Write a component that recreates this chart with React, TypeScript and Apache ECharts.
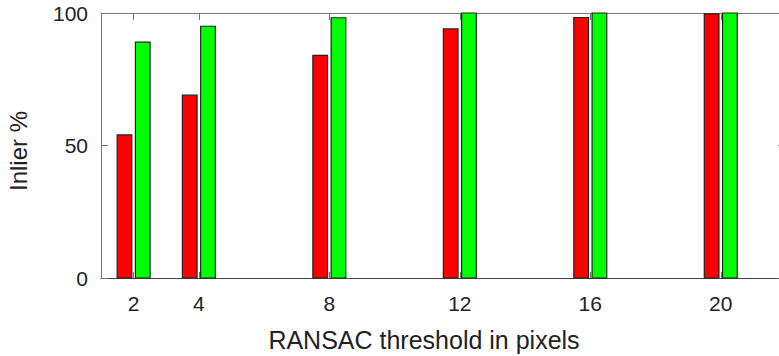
import React, { useEffect, useRef } from "react";
import * as echarts from "echarts";

// RANSAC pixel thresholds on the x axis
const thresholds = [2, 4, 8, 12, 16, 20];
// Inlier percentage per threshold, two runs
const redValues = [54, 69, 84, 94, 98.3, 99.7];
const greenValues = [89, 95, 98.2, 100, 100, 100];
const yTicks = [0, 50, 100];

const FONT = "Liberation Sans";
const BAR_W = 0.45;
const BAR_OFFSET = 0.28;

function barSeries(name: string, values: number[], offset: number, color: string) {
  return {
    type: "custom",
    name,
    xAxisIndex: 0,
    yAxisIndex: 0,
    data: thresholds.map((t, i) => [t, values[i]]),
    encode: { x: 0, y: 1 },
    renderItem: (params: any, api: any) => {
      const x = api.value(0) + offset;
      const v = api.value(1);
      const p0 = api.coord([x - BAR_W / 2, v]);
      const p1 = api.coord([x + BAR_W / 2, 0]);
      return {
        type: "rect",
        shape: { x: p0[0], y: p0[1], width: p1[0] - p0[0], height: p1[1] - p0[1] },
        style: { fill: color, stroke: "#222", lineWidth: 1.2 },
      };
    },
    z: 1,
  };
}

export default function App() {
  const ref = useRef<HTMLDivElement>(null);

  useEffect(() => {
    if (!ref.current) return;
    const chart = echarts.init(ref.current, null, { renderer: "svg" });
    const tickStyle = { color: "#777", width: 1 };
    chart.setOption({
      animation: false,
      backgroundColor: "#fff",
      // the plot frame runs a few pixels past the right edge of the canvas
      grid: {
        left: 101,
        top: 13,
        width: 685,
        height: 265,
        containLabel: false,
        outerBoundsMode: "none",
      },
      xAxis: [
        {
          type: "value",
          min: 1,
          max: 22,
          position: "bottom",
          axisLine: { show: true, onZero: false, lineStyle: { color: "#444", width: 1 } },
          axisTick: { show: true, inside: true, length: 6, customValues: thresholds, lineStyle: tickStyle },
          axisLabel: { show: true, customValues: thresholds, margin: 15, fontFamily: FONT, fontSize: 21, color: "#222" },
          splitLine: { show: false },
        },
        {
          type: "value",
          min: 1,
          max: 22,
          position: "top",
          axisLine: { show: true, onZero: false, lineStyle: { color: "#777", width: 1 } },
          axisTick: { show: true, inside: true, length: 7, customValues: thresholds, lineStyle: tickStyle },
          axisLabel: { show: false },
          splitLine: { show: false },
        },
      ],
      yAxis: [
        {
          type: "value",
          min: 0,
          max: 100,
          interval: 50,
          position: "left",
          axisLine: { show: true, onZero: false, lineStyle: { color: "#777", width: 1 } },
          axisTick: { show: true, inside: true, length: 7, customValues: yTicks, lineStyle: tickStyle },
          axisLabel: { show: true, customValues: yTicks, margin: 13, fontFamily: FONT, fontSize: 21, color: "#222" },
          splitLine: { show: false },
        },
        {
          type: "value",
          min: 0,
          max: 100,
          interval: 50,
          position: "right",
          axisLine: { show: false },
          axisTick: { show: true, inside: true, length: 8, customValues: yTicks, lineStyle: tickStyle },
          axisLabel: { show: false },
          splitLine: { show: false },
        },
      ],
      graphic: [
        {
          type: "text",
          x: 424,
          y: 340,
          style: {
            text: "RANSAC threshold in pixels",
            font: `25px "${FONT}"`,
            fill: "#222",
            align: "center",
            verticalAlign: "middle",
          },
        },
        {
          type: "text",
          x: 18,
          y: 151,
          rotation: Math.PI / 2,
          style: {
            text: "Inlier %",
            font: `24px "${FONT}"`,
            fill: "#222",
            align: "center",
            verticalAlign: "middle",
          },
        },
      ],
      series: [
        barSeries("red", redValues, -BAR_OFFSET, "#ff0000"),
        barSeries("green", greenValues, BAR_OFFSET, "#00ff00"),
      ],
    });
    return () => chart.dispose();
  }, []);

  return (
    <div
      ref={ref}
      style={{ position: "fixed", left: 0, top: 0, width: 779, height: 356, background: "#fff" }}
    />
  );
}
